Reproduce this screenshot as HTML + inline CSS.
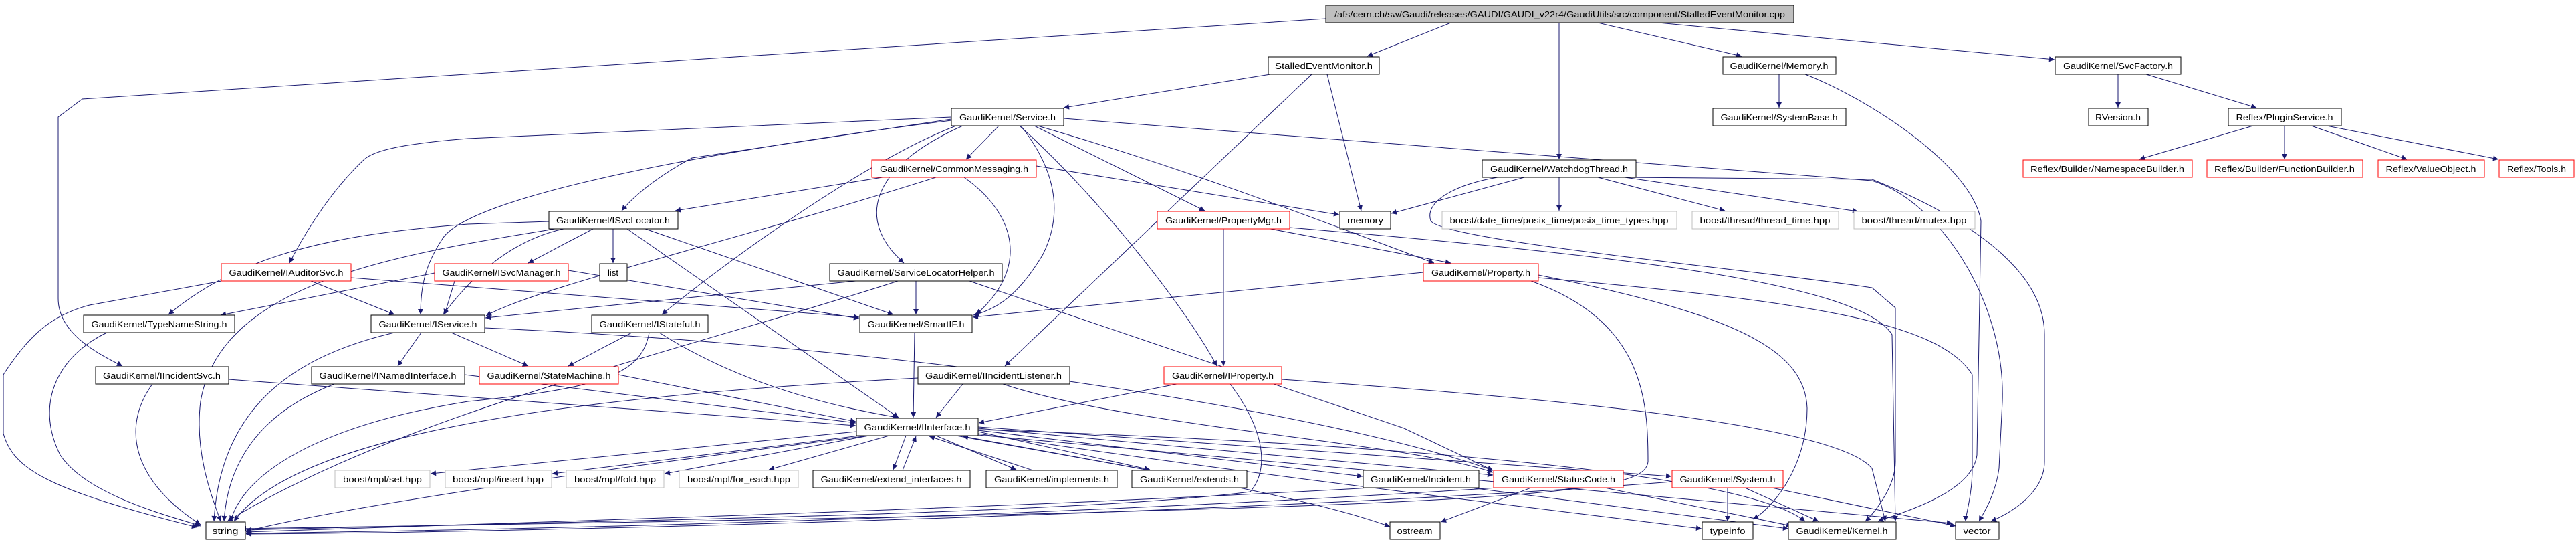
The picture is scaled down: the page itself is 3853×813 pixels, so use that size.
<!DOCTYPE html>
<html><head><meta charset="utf-8"><style>
html,body{margin:0;padding:0;background:#fff;}
svg{display:block;}
text{font-family:"Liberation Sans",sans-serif;font-size:13px;fill:#000;text-anchor:middle;}
.e{fill:none;stroke:#191970;stroke-width:1;marker-end:url(#a);}
.n{fill:#fff;stroke:#000;stroke-width:1;}
.r{fill:#fff;stroke:#ff0000;stroke-width:1;}
.g{fill:#fff;stroke:#bfbfbf;stroke-width:1;}
</style></head><body>
<svg width="3853" height="813" viewBox="0 0 3853 813" xmlns="http://www.w3.org/2000/svg">
<defs><marker id="a" viewBox="0 0 10 10" refX="10" refY="5" markerWidth="11" markerHeight="8" markerUnits="userSpaceOnUse" orient="auto"><path d="M0,0 L10,5 L0,10 z" fill="#191970"/></marker></defs>

<!-- edges -->
<path class="e" d="M2170,34 L2045,84"/>
<path class="e" d="M2332,34 L2332,238"/>
<path class="e" d="M2390,34 L2605,84"/>
<path class="e" d="M2480,34 L3073,89"/>
<path class="e" d="M1983,28 L123,148 L87,175 L87,446 C87,500 150,530 183,547"/>
<path class="e" d="M1900,111 L1591,161"/>
<path class="e" d="M1985,111 L2036,315"/>
<path class="e" d="M1962,111 L1503,547"/>
<path class="e" d="M2661,111 L2661,161"/>
<path class="e" d="M2700,111 C2800,150 2950,250 2963,330 L2957,680 C2950,740 2830,770 2809,779"/>
<path class="e" d="M3168,111 L3168,161"/>
<path class="e" d="M3210,111 L3375,161"/>
<path class="e" d="M3370,188 L3200,238"/>
<path class="e" d="M3417,188 L3417,238"/>
<path class="e" d="M3457,188 L3600,238"/>
<path class="e" d="M3480,188 L3737,238"/>
<path class="e" d="M2280,265 L2081,319"/>
<path class="e" d="M2332,265 L2332,315"/>
<path class="e" d="M2390,265 L2580,315"/>
<path class="e" d="M2430,265 L2779,316"/>
<path class="e" d="M2427,265 L2800,268 C2880,300 3058,380 3058,500 L3058,690 C3058,740 3000,770 2978,779"/>
<path class="e" d="M2240,265 C2180,275 2130,300 2140,330 C2160,360 2600,400 2800,430 L2835,460 L2835,690 C2835,730 2800,770 2790,779"/>
<path class="e" d="M1494,188 L1445,238"/>
<path class="e" d="M1423,178 L1035,236 C990,260 950,290 930,315"/>
<path class="e" d="M1423,175 L700,207 C600,215 560,225 545,238 C500,280 460,340 433,393"/>
<path class="e" d="M1423,180 C1100,220 700,290 661,358 C640,390 629,420 629,470"/>
<path class="e" d="M1430,188 C1300,238 1100,380 990,470"/>
<path class="e" d="M1440,188 C1300,250 1280,330 1352,393"/>
<path class="e" d="M1527,188 C1560,230 1600,300 1560,380 C1530,430 1500,460 1456,471"/>
<path class="e" d="M1547,188 L1802,315"/>
<path class="e" d="M1525,188 C1650,300 1780,470 1820,547"/>
<path class="e" d="M1552,188 C1800,260 2000,340 2145,393"/>
<path class="e" d="M1591,177 L2800,270 C2900,300 3000,450 2995,600 L2990,700 C2985,740 2965,770 2960,779"/>
<path class="e" d="M1320,265 L1010,315"/>
<path class="e" d="M1550,248 L2003,321"/>
<path class="e" d="M1400,265 C1100,360 800,430 727,472"/>
<path class="e" d="M1442,265 C1520,320 1540,400 1460,470"/>
<path class="e" d="M917,342 L917,393"/>
<path class="e" d="M887,342 L790,393"/>
<path class="e" d="M821,331 L700,335 C500,350 360,380 252,470"/>
<path class="e" d="M843,342 C760,360 700,420 663,470"/>
<path class="e" d="M965,342 L1336,470"/>
<path class="e" d="M938,342 L1344,624"/>
<path class="e" d="M830,342 C600,380 330,420 300,600 C290,680 320,750 330,779"/>
<path class="e" d="M465,420 L590,470"/>
<path class="e" d="M331,420 L134,456 C80,470 45,498 5,560 L5,648 C20,700 67,731 295,788"/>
<path class="e" d="M525,415 L1285,474"/>
<path class="e" d="M680,420 L665,470"/>
<path class="e" d="M650,408 L330,471"/>
<path class="e" d="M850,404 L1285,476"/>
<path class="e" d="M725,490 C1400,520 2000,620 2233,703"/>
<path class="e" d="M160,497 C90,530 50,600 90,680 C130,740 250,770 300,786"/>
<path class="e" d="M630,497 L595,547"/>
<path class="e" d="M675,497 L790,547"/>
<path class="e" d="M590,497 C450,530 330,600 320,779"/>
<path class="e" d="M945,497 L850,547"/>
<path class="e" d="M986,497 C1080,557 1200,600 1343,624"/>
<path class="e" d="M971,497 C960,560 900,580 700,600 C450,640 360,720 345,779"/>
<path class="e" d="M1368,497 L1366,624"/>
<path class="e" d="M1280,420 L726,475"/>
<path class="e" d="M1370,420 L1370,470"/>
<path class="e" d="M1343,420 C1000,530 600,620 340,779"/>
<path class="e" d="M1450,420 L2100,640 L2233,703"/>
<path class="e" d="M2129,407 L1455,474"/>
<path class="e" d="M2290,420 C2460,480 2465,600 2465,690 C2460,740 2300,760 360,790"/>
<path class="e" d="M2301,411 C2600,470 2700,524 2703,610 C2703,700 2650,760 2622,776"/>
<path class="e" d="M2301,415 C2700,450 2900,480 2950,560 L2950,700 C2950,740 2940,770 2940,779"/>
<path class="e" d="M1760,574 L1464,632"/>
<path class="e" d="M1840,574 C1890,640 1900,700 1870,735 C1600,770 800,780 368,792"/>
<path class="e" d="M1917,567 C2400,600 2750,640 2800,700 L2820,779"/>
<path class="e" d="M1830,342 L1830,547"/>
<path class="e" d="M1900,342 L2170,393"/>
<path class="e" d="M1929,340 C2400,380 2780,420 2830,500 L2835,779"/>
<path class="e" d="M228,574 C180,640 200,720 300,784"/>
<path class="e" d="M342,567 L1280,636"/>
<path class="e" d="M695,560 L1280,632"/>
<path class="e" d="M500,574 C380,620 340,700 335,779"/>
<path class="e" d="M925,560 L1280,630"/>
<path class="e" d="M1440,574 L1400,624"/>
<path class="e" d="M1373,565 C900,590 450,640 350,779"/>
<path class="e" d="M1500,574 C1700,640 2100,660 2233,706"/>
<path class="e" d="M1281,645 L644,708"/>
<path class="e" d="M1286,651 L826,708"/>
<path class="e" d="M1300,651 L994,708"/>
<path class="e" d="M1330,651 L1150,702"/>
<path class="e" d="M1355,651 L1336,702"/>
<path class="e" d="M1350,703 L1370,652"/>
<path class="e" d="M1400,651 L1520,702"/>
<path class="e" d="M1545,703 L1390,652"/>
<path class="e" d="M1463,645 L1720,702"/>
<path class="e" d="M1720,703 L1440,652"/>
<path class="e" d="M1463,643 L2038,712"/>
<path class="e" d="M1463,640 L2233,710"/>
<path class="e" d="M1463,638 L2500,712"/>
<path class="e" d="M1430,651 C1700,700 1950,740 2079,787"/>
<path class="e" d="M1463,648 C1800,700 2300,760 2545,790"/>
<path class="e" d="M1463,642 C2000,660 2600,700 2700,779"/>
<path class="e" d="M1463,650 L2920,782"/>
<path class="e" d="M1300,651 C900,700 500,760 368,794"/>
<path class="e" d="M2050,729 C1500,760 800,780 368,795"/>
<path class="e" d="M2200,729 L2675,790"/>
<path class="e" d="M2290,729 L2155,780"/>
<path class="e" d="M2400,729 L2680,786"/>
<path class="e" d="M2240,729 C1600,770 900,790 368,797"/>
<path class="e" d="M2584,729 L2584,779"/>
<path class="e" d="M2610,729 L2720,779"/>
<path class="e" d="M2501,720 C2000,760 900,795 368,798"/>
<path class="e" d="M2650,729 L2925,786"/>

<!-- nodes -->
<rect x="1983" y="8" width="700" height="26" fill="#bfbfbf" stroke="#000"/><text x="2333" y="26" textLength="674" lengthAdjust="spacingAndGlyphs">/afs/cern.ch/sw/Gaudi/releases/GAUDI/GAUDI_v22r4/GaudiUtils/src/component/StalledEventMonitor.cpp</text>

<rect class="n" x="1897" y="85" width="166" height="26"/><text x="1980" y="103" textLength="146" lengthAdjust="spacingAndGlyphs">StalledEventMonitor.h</text>
<rect class="n" x="2577" y="85" width="169" height="26"/><text x="2661" y="103" textLength="147" lengthAdjust="spacingAndGlyphs">GaudiKernel/Memory.h</text>
<rect class="n" x="3074" y="85" width="188" height="26"/><text x="3168" y="103" textLength="164" lengthAdjust="spacingAndGlyphs">GaudiKernel/SvcFactory.h</text>

<rect class="n" x="1423" y="162" width="168" height="26"/><text x="1507" y="180" textLength="144" lengthAdjust="spacingAndGlyphs">GaudiKernel/Service.h</text>
<rect class="n" x="2562" y="162" width="199" height="26"/><text x="2661" y="180" textLength="175" lengthAdjust="spacingAndGlyphs">GaudiKernel/SystemBase.h</text>
<rect class="n" x="3124" y="162" width="89" height="26"/><text x="3168" y="180" textLength="68" lengthAdjust="spacingAndGlyphs">RVersion.h</text>
<rect class="n" x="3333" y="162" width="169" height="26"/><text x="3417" y="180" textLength="145" lengthAdjust="spacingAndGlyphs">Reflex/PluginService.h</text>

<rect class="r" x="1304" y="239" width="246" height="26"/><text x="1427" y="257" textLength="222" lengthAdjust="spacingAndGlyphs">GaudiKernel/CommonMessaging.h</text>
<rect class="n" x="2217" y="239" width="230" height="26"/><text x="2332" y="257" textLength="206" lengthAdjust="spacingAndGlyphs">GaudiKernel/WatchdogThread.h</text>
<rect class="r" x="3026" y="239" width="253" height="26"/><text x="3152" y="257" textLength="230" lengthAdjust="spacingAndGlyphs">Reflex/Builder/NamespaceBuilder.h</text>
<rect class="r" x="3301" y="239" width="233" height="26"/><text x="3417" y="257" textLength="210" lengthAdjust="spacingAndGlyphs">Reflex/Builder/FunctionBuilder.h</text>
<rect class="r" x="3557" y="239" width="159" height="26"/><text x="3636" y="257" textLength="135" lengthAdjust="spacingAndGlyphs">Reflex/ValueObject.h</text>
<rect class="r" x="3738" y="239" width="112" height="26"/><text x="3794" y="257" textLength="88" lengthAdjust="spacingAndGlyphs">Reflex/Tools.h</text>

<rect class="n" x="821" y="316" width="193" height="26"/><text x="917" y="334" textLength="170" lengthAdjust="spacingAndGlyphs">GaudiKernel/ISvcLocator.h</text>
<rect class="r" x="1731" y="316" width="198" height="26"/><text x="1830" y="334" textLength="174" lengthAdjust="spacingAndGlyphs">GaudiKernel/PropertyMgr.h</text>
<rect class="n" x="2004" y="316" width="76" height="26"/><text x="2042" y="334" textLength="54" lengthAdjust="spacingAndGlyphs">memory</text>
<rect class="g" x="2157" y="316" width="351" height="26"/><text x="2332" y="334" textLength="327" lengthAdjust="spacingAndGlyphs">boost/date_time/posix_time/posix_time_types.hpp</text>
<rect class="g" x="2531" y="316" width="219" height="26"/><text x="2640" y="334" textLength="195" lengthAdjust="spacingAndGlyphs">boost/thread/thread_time.hpp</text>
<rect class="g" x="2773" y="316" width="181" height="26"/><text x="2863" y="334" textLength="157" lengthAdjust="spacingAndGlyphs">boost/thread/mutex.hpp</text>

<rect class="r" x="331" y="394" width="194" height="26"/><text x="428" y="412" textLength="171" lengthAdjust="spacingAndGlyphs">GaudiKernel/IAuditorSvc.h</text>
<rect class="r" x="650" y="394" width="200" height="26"/><text x="750" y="412" textLength="177" lengthAdjust="spacingAndGlyphs">GaudiKernel/ISvcManager.h</text>
<rect class="n" x="897" y="394" width="41" height="26"/><text x="917" y="412">list</text>
<rect class="n" x="1241" y="394" width="258" height="26"/><text x="1370" y="412" textLength="235" lengthAdjust="spacingAndGlyphs">GaudiKernel/ServiceLocatorHelper.h</text>
<rect class="r" x="2129" y="394" width="172" height="26"/><text x="2215" y="412" textLength="148" lengthAdjust="spacingAndGlyphs">GaudiKernel/Property.h</text>

<rect class="n" x="125" y="471" width="226" height="26"/><text x="238" y="489" textLength="203" lengthAdjust="spacingAndGlyphs">GaudiKernel/TypeNameString.h</text>
<rect class="n" x="555" y="471" width="170" height="26"/><text x="640" y="489" textLength="147" lengthAdjust="spacingAndGlyphs">GaudiKernel/IService.h</text>
<rect class="n" x="885" y="471" width="174" height="26"/><text x="972" y="489" textLength="151" lengthAdjust="spacingAndGlyphs">GaudiKernel/IStateful.h</text>
<rect class="n" x="1286" y="471" width="168" height="26"/><text x="1370" y="489" textLength="145" lengthAdjust="spacingAndGlyphs">GaudiKernel/SmartIF.h</text>

<rect class="n" x="143" y="548" width="199" height="26"/><text x="242" y="566" textLength="176" lengthAdjust="spacingAndGlyphs">GaudiKernel/IIncidentSvc.h</text>
<rect class="n" x="466" y="548" width="229" height="26"/><text x="580" y="566" textLength="205" lengthAdjust="spacingAndGlyphs">GaudiKernel/INamedInterface.h</text>
<rect class="r" x="717" y="548" width="208" height="26"/><text x="821" y="566" textLength="185" lengthAdjust="spacingAndGlyphs">GaudiKernel/StateMachine.h</text>
<rect class="n" x="1373" y="548" width="227" height="26"/><text x="1486" y="566" textLength="204" lengthAdjust="spacingAndGlyphs">GaudiKernel/IIncidentListener.h</text>
<rect class="r" x="1741" y="548" width="176" height="26"/><text x="1829" y="566" textLength="152" lengthAdjust="spacingAndGlyphs">GaudiKernel/IProperty.h</text>

<rect class="n" x="1281" y="625" width="182" height="26"/><text x="1372" y="643" textLength="159" lengthAdjust="spacingAndGlyphs">GaudiKernel/IInterface.h</text>

<rect class="g" x="501" y="703" width="142" height="26"/><text x="572" y="721" textLength="118" lengthAdjust="spacingAndGlyphs">boost/mpl/set.hpp</text>
<rect class="g" x="666" y="703" width="159" height="26"/><text x="745" y="721" textLength="136" lengthAdjust="spacingAndGlyphs">boost/mpl/insert.hpp</text>
<rect class="g" x="847" y="703" width="146" height="26"/><text x="920" y="721" textLength="122" lengthAdjust="spacingAndGlyphs">boost/mpl/fold.hpp</text>
<rect class="g" x="1016" y="703" width="178" height="26"/><text x="1105" y="721" textLength="154" lengthAdjust="spacingAndGlyphs">boost/mpl/for_each.hpp</text>
<rect class="n" x="1216" y="703" width="235" height="26"/><text x="1333" y="721" textLength="211" lengthAdjust="spacingAndGlyphs">GaudiKernel/extend_interfaces.h</text>
<rect class="n" x="1475" y="703" width="196" height="26"/><text x="1573" y="721" textLength="172" lengthAdjust="spacingAndGlyphs">GaudiKernel/implements.h</text>
<rect class="n" x="1693" y="703" width="172" height="26"/><text x="1779" y="721" textLength="148" lengthAdjust="spacingAndGlyphs">GaudiKernel/extends.h</text>
<rect class="n" x="2039" y="703" width="173" height="26"/><text x="2125" y="721" textLength="150" lengthAdjust="spacingAndGlyphs">GaudiKernel/Incident.h</text>
<rect class="r" x="2234" y="703" width="194" height="26"/><text x="2331" y="721" textLength="170" lengthAdjust="spacingAndGlyphs">GaudiKernel/StatusCode.h</text>
<rect class="r" x="2501" y="703" width="166" height="26"/><text x="2584" y="721" textLength="143" lengthAdjust="spacingAndGlyphs">GaudiKernel/System.h</text>

<rect class="n" x="308" y="780" width="59" height="26"/><text x="337" y="798" textLength="39" lengthAdjust="spacingAndGlyphs">string</text>
<rect class="n" x="2079" y="780" width="75" height="26"/><text x="2116" y="798" textLength="53" lengthAdjust="spacingAndGlyphs">ostream</text>
<rect class="n" x="2546" y="780" width="76" height="26"/><text x="2584" y="798" textLength="53" lengthAdjust="spacingAndGlyphs">typeinfo</text>
<rect class="n" x="2675" y="780" width="161" height="26"/><text x="2755" y="798" textLength="137" lengthAdjust="spacingAndGlyphs">GaudiKernel/Kernel.h</text>
<rect class="n" x="2925" y="780" width="65" height="26"/><text x="2957" y="798" textLength="41" lengthAdjust="spacingAndGlyphs">vector</text>
</svg>
</body></html>
